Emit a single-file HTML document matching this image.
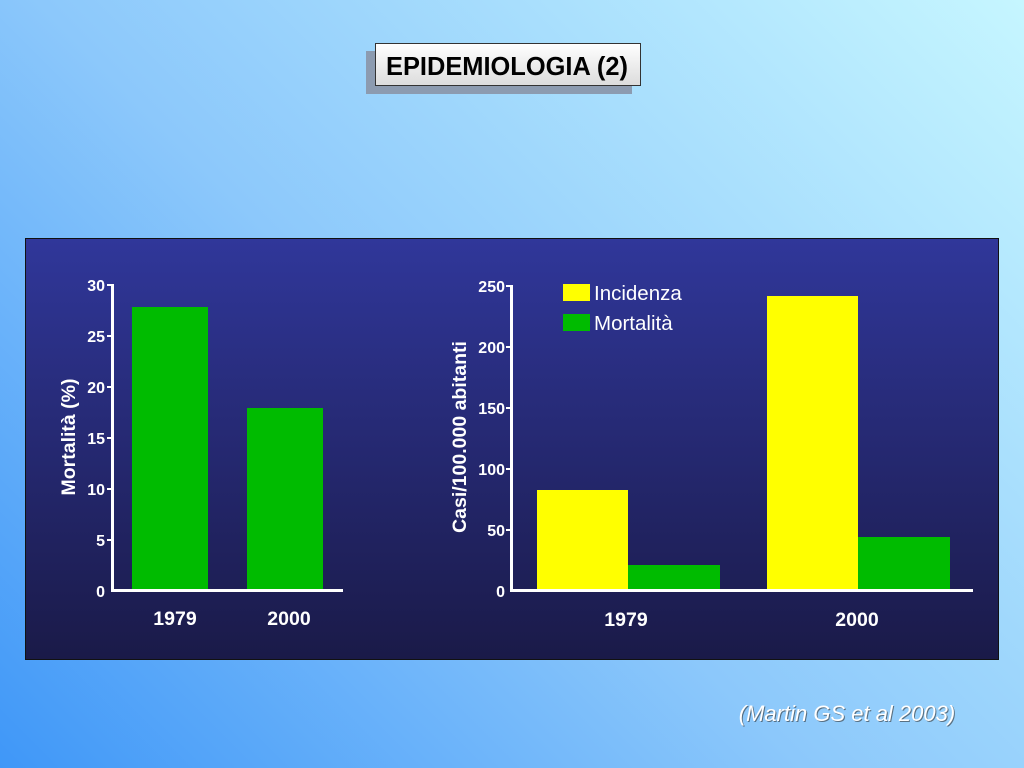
<!DOCTYPE html>
<html><head><meta charset="utf-8"><style>
html,body{margin:0;padding:0;width:1024px;height:768px;overflow:hidden}
body{background:linear-gradient(45deg,#3f97f8 0%,#8cc8fb 45%,#c6f6ff 100%);position:relative;font-family:"Liberation Sans",sans-serif}
</style></head><body>
<svg width="1024" height="768" style="position:absolute;left:0;top:0" font-family="Liberation Sans, sans-serif">
<defs>
<linearGradient id="pg" x1="0" y1="0" x2="0" y2="1"><stop offset="0" stop-color="#30379a"/><stop offset="1" stop-color="#1a1a48"/></linearGradient>
<linearGradient id="tg" x1="0" y1="0" x2="0" y2="1"><stop offset="0" stop-color="#ffffff"/><stop offset="1" stop-color="#dcdcdc"/></linearGradient>
</defs>
<rect x="366" y="51" width="266" height="43" fill="#8c9bb0"/>
<rect x="375.5" y="43.5" width="265" height="42" fill="url(#tg)" stroke="#333" stroke-width="1"/>
<text x="507" y="75" text-anchor="middle" font-size="26" font-weight="bold" fill="#000" textLength="242" lengthAdjust="spacingAndGlyphs">EPIDEMIOLOGIA (2)</text>
<rect x="25.5" y="238.5" width="973" height="421" fill="url(#pg)" stroke="#111" stroke-width="1"/>
<g fill="#fff" font-weight="bold" font-size="16" text-anchor="end">
<rect x="132" y="307" width="76" height="283" fill="#00bb00"/>
<rect x="247" y="408" width="76" height="182" fill="#00bb00"/>
<rect x="111" y="284" width="3" height="308"/>
<rect x="111" y="589" width="232" height="3"/>
<rect x="107" y="284" width="5" height="2"/><text x="105" y="291">30</text>
<rect x="107" y="335" width="5" height="2"/><text x="105" y="342">25</text>
<rect x="107" y="386" width="5" height="2"/><text x="105" y="393">20</text>
<rect x="107" y="437" width="5" height="2"/><text x="105" y="444">15</text>
<rect x="107" y="488" width="5" height="2"/><text x="105" y="495">10</text>
<rect x="107" y="539" width="5" height="2"/><text x="105" y="546">5</text>
<text x="105" y="597">0</text>
<text x="0" y="0" transform="translate(75,437) rotate(-90)" text-anchor="middle" font-size="19.5">Mortalità (%)</text>
<text x="175" y="625" text-anchor="middle" font-size="19.5">1979</text>
<text x="289" y="625" text-anchor="middle" font-size="19.5">2000</text>
<rect x="537" y="490" width="91" height="100" fill="#ffff00"/>
<rect x="628" y="565" width="92" height="25" fill="#00bb00"/>
<rect x="767" y="296" width="91" height="294" fill="#ffff00"/>
<rect x="858" y="537" width="92" height="53" fill="#00bb00"/>
<rect x="510" y="285" width="3" height="307"/>
<rect x="510" y="589" width="463" height="3"/>
<rect x="506" y="285" width="5" height="2"/><text x="505" y="292">250</text>
<rect x="506" y="346" width="5" height="2"/><text x="505" y="353">200</text>
<rect x="506" y="407" width="5" height="2"/><text x="505" y="414">150</text>
<rect x="506" y="468" width="5" height="2"/><text x="505" y="475">100</text>
<rect x="506" y="529" width="5" height="2"/><text x="505" y="536">50</text>
<text x="505" y="597">0</text>
<text x="0" y="0" transform="translate(466,437) rotate(-90)" text-anchor="middle" font-size="19.5">Casi/100.000 abitanti</text>
<text x="626" y="626" text-anchor="middle" font-size="19.5">1979</text>
<text x="857" y="626" text-anchor="middle" font-size="19.5">2000</text>
<rect x="563" y="284" width="27" height="17" fill="#ffff00"/>
<rect x="563" y="314" width="27" height="17" fill="#00bb00"/>
<text x="594" y="300" text-anchor="start" font-weight="normal" font-size="20.5">Incidenza</text>
<text x="594" y="330" text-anchor="start" font-weight="normal" font-size="20.5">Mortalità</text>
</g>
<text x="848" y="722" text-anchor="middle" font-size="22" font-style="italic" fill="#333" opacity="0.6">(Martin GS et al 2003)</text>
<text x="847" y="721" text-anchor="middle" font-size="22" font-style="italic" fill="#fff">(Martin GS et al 2003)</text>
</svg>
</body></html>
